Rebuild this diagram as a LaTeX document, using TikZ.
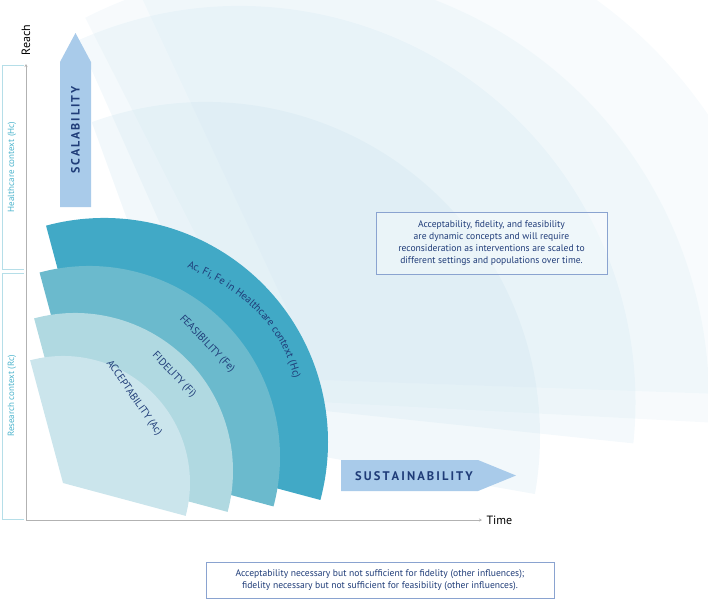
\documentclass[tikz,border=0pt]{standalone}
\usepackage{fontspec}
\setmainfont{PT Sans}
\usetikzlibrary{decorations.text,calc,arrows.meta}
\definecolor{navy}{HTML}{1F3C78}
\definecolor{ghost}{HTML}{C3DFEC}
\definecolor{cAc}{HTML}{CBE5EC}
\definecolor{cFi}{HTML}{B0D9E1}
\definecolor{cFe}{HTML}{6BBACD}
\definecolor{cHc}{HTML}{41A9C6}
\definecolor{arrowblue}{HTML}{A9CBEA}
\definecolor{ctx}{HTML}{4AB3CC}
\definecolor{ctxline}{HTML}{B5DEE8}
\definecolor{boxline}{HTML}{8AA3D0}
\tikzset{
  ghostfill/.style={fill=ghost},
  lbl/.style={text=navy,font=\fontsize{10.5}{12}\selectfont},
  infobox/.style={draw=boxline,fill=white,fill opacity=0.35,text opacity=1,text=navy,align=center,font=\fontsize{9.6}{12}\selectfont,inner sep=0pt},
  ctxlbl/.style={text=ctx,font=\fontsize{9}{10}\selectfont,rotate=90},
  axis/.style={draw=black!30,line width=0.8pt,-{Stealth[length=3pt,width=3pt]}},
}
\begin{document}
\begin{tikzpicture}[x=1pt,y=-1pt]
\useasboundingbox (0,0) rectangle (708,600);
% ghost sectors
\fill[ghostfill,fill opacity=0.12] (320,380) -- ++(-115:470) arc[start angle=-115,end angle=2,radius=470] -- cycle;
\fill[ghostfill,fill opacity=0.14] (280,400) -- ++(-117:429) arc[start angle=-117,end angle=3,radius=429] -- cycle;
\fill[ghostfill,fill opacity=0.18] (239.5,402) -- ++(-114:396) arc[start angle=-114,end angle=6,radius=396] -- cycle;
\fill[ghostfill,fill opacity=0.22] (206,436) -- ++(-110:334) arc[start angle=-110,end angle=10,radius=334] -- cycle;
% main sectors
\fill[cHc] (104,442) -- ++(-105:224) arc[start angle=-105,end angle=15,radius=224] -- cycle;
\fill[cFe] (89,457) -- ++(-105:191) arc[start angle=-105,end angle=15,radius=191] -- cycle;
\fill[cFi] (75,471) -- ++(-105:158) arc[start angle=-105,end angle=15,radius=158] -- cycle;
\fill[cAc] (63,483) -- ++(-105:127) arc[start angle=-105,end angle=15,radius=127] -- cycle;
% sector labels
\node[lbl,rotate=-55] (ac) at (134,398) {ACCEPTABILITY (Ac)};
\node[lbl,rotate=-46] (fi) at (174,375) {FIDELITY (Fi)};
\node[lbl,rotate=-46] (fe) at (207,344) {FEASIBILITY (Fe)};
\path[decorate,decoration={text along path,text align=center,text={|\color{navy}\fontsize{10.5}{12}\selectfont|Ac, Fi, Fe in Healthcare context (Hc)}}]
  (174,262) .. controls (232,284) and (284,318) .. (297,392);
% arrows
\fill[arrowblue] (60,207) -- (60,62) -- (75.5,33) -- (91,62) -- (91,207) -- cycle;
\node[text=navy,font=\fontsize{12}{13}\selectfont\bfseries,rotate=90] (scal) at (75.5,130) {S\,C\,A\,L\,A\,B\,I\,L\,I\,T\,Y};
\fill[arrowblue] (341,460) -- (478,460) -- (516,475.5) -- (478,491) -- (341,491) -- cycle;
\node[text=navy,font=\fontsize{12.5}{13}\selectfont\bfseries] (sust) at (414,476) {S\,U\,S\,T\,A\,I\,N\,A\,B\,I\,L\,I\,T\,Y};
% axes
\coordinate (o) at (26,520);
\coordinate (ytop) at (26,64);
\coordinate (xend) at (482,520);
\draw[axis] (o) -- (ytop);
\draw[axis] (o) -- (xend);
\node[font=\fontsize{12}{13}\selectfont,rotate=90,anchor=west] (reach) at (26,59) {Reach};
\node[font=\fontsize{12}{13}\selectfont,anchor=west] (time) at (483,520) {Time};
% context brackets
\draw[ctxline,line width=0.8pt] (24,65) -- (2,65) -- (2,269) -- (24,269);
\draw[ctxline,line width=0.8pt] (24,273) -- (2,273) -- (2,519) -- (24,519);
\node[ctxlbl] (hc) at (12,167) {Healthcare context (Hc)};
\node[ctxlbl] (rc) at (12,396) {Research context (Rc)};
% info boxes
\node[infobox,minimum width=231pt,minimum height=62pt] (info1) at (491.5,243) {Acceptability, fidelity, and feasibility\\are dynamic concepts and will require\\reconsideration as interventions are scaled to\\different settings and populations over time.};
\node[infobox,minimum width=348pt,minimum height=36pt] (info2) at (380,580) {Acceptability necessary but not sufficient for fidelity (other influences);\\fidelity necessary but not sufficient for feasibility (other influences).};
\end{tikzpicture}
\end{document}
